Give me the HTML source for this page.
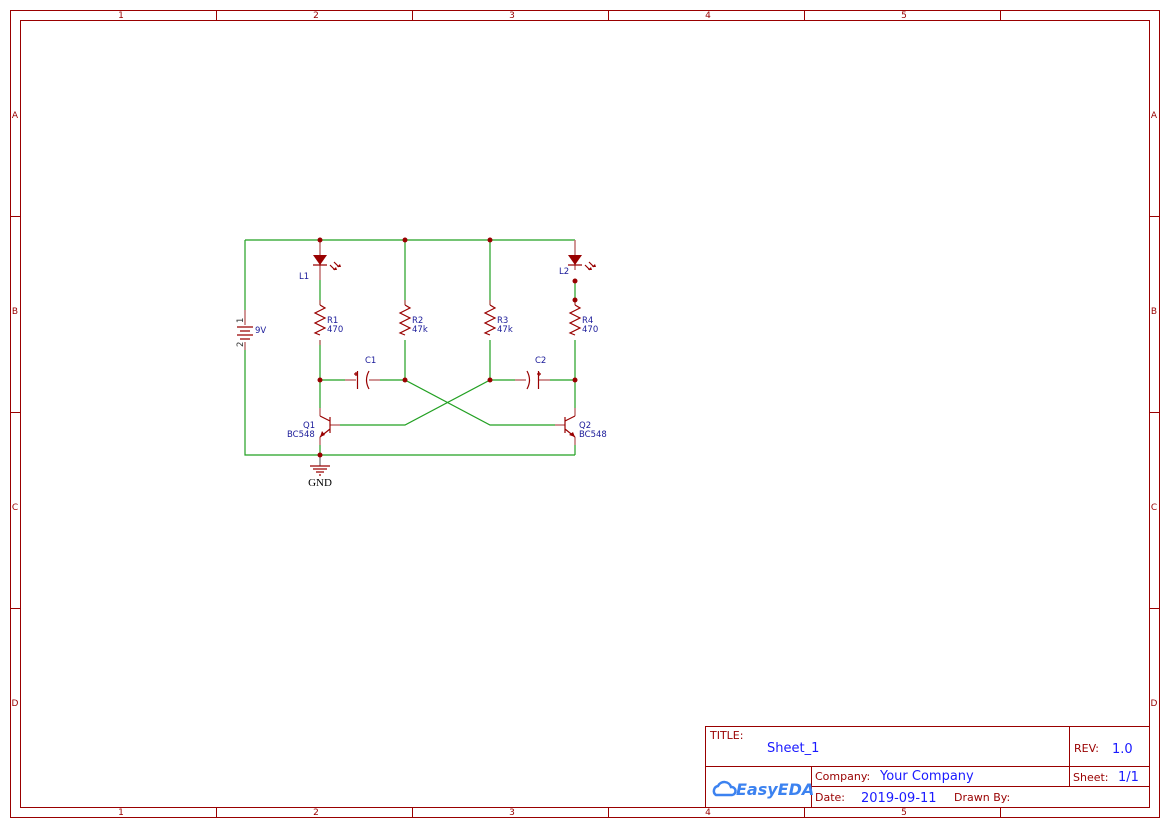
<!DOCTYPE html>
<html><head><meta charset="utf-8"><style>
html,body{margin:0;padding:0;background:#fff;}
svg{display:block;font-family:"DejaVu Sans","Liberation Sans",sans-serif;}
</style></head><body>
<svg width="1169" height="827" viewBox="0 0 1169 827" xmlns="http://www.w3.org/2000/svg">
<g stroke="#990000" stroke-width="1" fill="none">
<rect x="10.5" y="10.5" width="1149" height="807"/>
<rect x="20.5" y="20.5" width="1129" height="787"/>
<path d="M216.5 10V20M412.5 10V20M608.5 10V20M804.5 10V20M1000.5 10V20M216.5 807V817M412.5 807V817M608.5 807V817M804.5 807V817M1000.5 807V817M10 216.5H20M10 412.5H20M10 608.5H20M1149 216.5H1159M1149 412.5H1159M1149 608.5H1159"/>
<rect x="705.5" y="726.5" width="444" height="81"/>
<path d="M705 766.5H1149M811 786.5H1149M811.5 766V807M1069.5 726V786"/>
</g>
<g fill="#990000" font-size="9" text-anchor="middle">
<text x="121" y="18">1</text><text x="316" y="18">2</text><text x="512" y="18">3</text><text x="708" y="18">4</text><text x="904" y="18">5</text>
<text x="121" y="815">1</text><text x="316" y="815">2</text><text x="512" y="815">3</text><text x="708" y="815">4</text><text x="904" y="815">5</text>
<text x="15" y="118">A</text><text x="15" y="314">B</text><text x="15" y="510">C</text><text x="15" y="706">D</text>
<text x="1154" y="118">A</text><text x="1154" y="314">B</text><text x="1154" y="510">C</text><text x="1154" y="706">D</text>
</g>
<g font-size="11" fill="#990000">
<text x="710" y="739">TITLE:</text>
<text x="1074" y="752">REV:</text>
<text x="815" y="780">Company:</text>
<text x="1073" y="781">Sheet:</text>
<text x="815" y="801">Date:</text>
<text x="954" y="801">Drawn By:</text>
</g>
<g font-size="13" fill="#1a1aff">
<text x="767" y="752">Sheet_1</text>
<text x="1112" y="753">1.0</text>
<text x="880" y="780">Your Company</text>
<text x="1118" y="781">1/1</text>
<text x="861" y="802">2019-09-11</text>
</g>
<g>
<path d="M716 795 a5 5 0 0 1 2-9 a7 7 0 0 1 13 1 a4 4 0 0 1 1 8 z" fill="none" stroke="#3c82f0" stroke-width="2.5"/>
<text x="736" y="795" font-size="16" font-style="italic" font-weight="bold" fill="#3c82f0">EasyEDA</text>
</g>
<!-- wires -->
<g stroke="#22a022" stroke-width="1.2" fill="none">
<path d="M245 240H575M245 240V310M245 350V455H575"/>
<path d="M320 280V305M320 340V408M320 445V455"/>
<path d="M405 240V305M405 340V380M490 240V305M490 340V380"/>
<path d="M575 280V305M575 340V408M575 445V455"/>
<path d="M320 380H345M380 380H405M490 380H515M550 380H575"/>
<path d="M340 425H405L490 380M405 380L490 425H555"/>
</g>
<!-- red pins -->
<g stroke="#c07070" stroke-width="1.5" fill="none">
<path d="M320 240V280M575 240V270"/>
<path d="M345 380H356M369 380H380M515 380H526M539 380H550"/>
<path d="M320 408V416M320 437V445M575 408V416M575 437V445M330 425H340M555 425H565"/>
<path d="M245 310V325M245 342V350"/>
<path d="M320 300V305M320 340V345M405 300V305M490 300V305M575 300V305"/>
</g>
<g stroke="#888" stroke-width="1.5"><path d="M320 455V466"/></g>
<g stroke="#990000" stroke-width="1.2" fill="none">
<!-- resistors -->
<path d="M320 305l5 3-10 5 10 5-10 5 10 5-10 5 5 2"/>
<path d="M405 305l5 3-10 5 10 5-10 5 10 5-10 5 5 2"/>
<path d="M490 305l5 3-10 5 10 5-10 5 10 5-10 5 5 2"/>
<path d="M575 305l5 3-10 5 10 5-10 5 10 5-10 5 5 2"/>
<!-- battery -->
<path d="M237 327H253M240 331H250M237 335H253M240 339H250"/>
<!-- LEDs -->
<path d="M313 265H327M568 265H582"/>
<path d="M330 265l5 5M334 262l5 5M585 265l5 5M589 262l5 5"/>
<!-- caps -->
<path d="M357.5 371V389M369 371q-5 9 0 18M354 374h4M356 372v4"/>
<path d="M538.5 371V389M527 371q5 9 0 18M537 374h4M539 372v4"/>
<!-- transistors -->
<path d="M330 417V433M320 416L330 421M330 429L320 437"/>
<path d="M565 417V433M575 416L565 421M565 429L575 437"/>
<!-- gnd -->
<path d="M310 466H330M313 469H327M316 472H324M319 475H321"/>
</g>
<g fill="#990000">
<path d="M313 255H327L320 265Z"/><path d="M568 255H582L575 265Z"/>
<path d="M337 270l-4 0 3-3z"/><path d="M341 267l-4 0 3-3z"/><path d="M592 270l-4 0 3-3z"/><path d="M596 267l-4 0 3-3z"/>
<path d="M320 437l2-6 3 4z"/><path d="M575 437l-6-2 4-3z"/>
<circle cx="320" cy="240" r="2.5"/><circle cx="405" cy="240" r="2.5"/><circle cx="490" cy="240" r="2.5"/>
<circle cx="575" cy="281" r="2.5"/><circle cx="575" cy="300" r="2.5"/>
<circle cx="320" cy="380" r="2.5"/><circle cx="405" cy="380" r="2.5"/><circle cx="490" cy="380" r="2.5"/><circle cx="575" cy="380" r="2.5"/>
<circle cx="320" cy="455" r="2.5"/>
</g>
<g fill="#1a1a99" font-size="8.5">
<text x="299" y="279">L1</text><text x="559" y="274">L2</text>
<text x="327" y="323">R1</text><text x="327" y="332">470</text>
<text x="412" y="323">R2</text><text x="412" y="332">47k</text>
<text x="497" y="323">R3</text><text x="497" y="332">47k</text>
<text x="582" y="323">R4</text><text x="582" y="332">470</text>
<text x="255" y="333">9V</text>
<text x="365" y="363">C1</text><text x="535" y="363">C2</text>
<text x="303" y="428">Q1</text><text x="287" y="437">BC548</text>
<text x="579" y="428">Q2</text><text x="579" y="437">BC548</text>
</g>
<g fill="#333" font-size="8.5">
<text transform="translate(243,323) rotate(-90)">1</text>
<text transform="translate(243,347) rotate(-90)">2</text>
</g>
<text x="320" y="486" font-family="Liberation Serif,serif" font-size="11" text-anchor="middle" fill="#000">GND</text>
</svg>
</body></html>
